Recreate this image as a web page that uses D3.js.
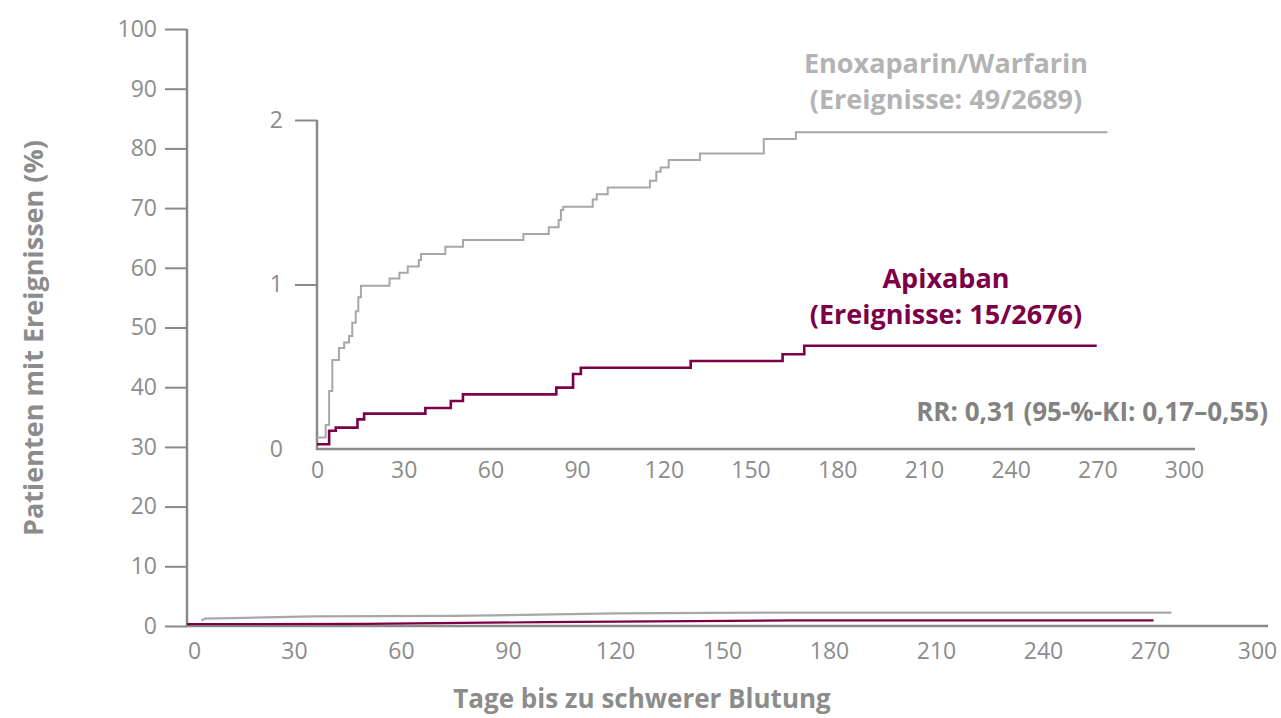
<!DOCTYPE html>
<html>
<head>
<meta charset="utf-8">
<script src="https://cdn.jsdelivr.net/npm/d3@7"></script>
<style>
  body { margin: 0; background: #fff; }
  svg text { font-family: "Open Sans", "Noto Sans", sans-serif; }
</style>
</head>
<body>
<div id="chart" style="width:1281px;height:718px"></div>
<script>
// inset: cumulative incidence (%) step curves, [day, percent]
const enoxInset = [
  [0, 0.07], [3.0, 0.146], [4.2, 0.353], [5.3, 0.541], [7.6, 0.614], [9.4, 0.648],
  [11.1, 0.687], [12.2, 0.768], [13.4, 0.837], [14.3, 0.922], [15.2, 0.993],
  [25.1, 1.037], [28.5, 1.072], [31.4, 1.11], [35.2, 1.149], [36.0, 1.185],
  [44.4, 1.23], [50.5, 1.27], [71.4, 1.307], [80.2, 1.348], [83.6, 1.392],
  [84.4, 1.453], [85.2, 1.473], [95.4, 1.516], [96.8, 1.548], [100.6, 1.589],
  [115.2, 1.63], [117.4, 1.686], [118.9, 1.712], [121.7, 1.757], [132.5, 1.797],
  [154.6, 1.884], [165.7, 1.925], [273.5, 1.925]
];
const apixInset = [
  [0, 0.029], [4.2, 0.111], [6.5, 0.13], [14.0, 0.18], [16.3, 0.215], [37.5, 0.249],
  [46.3, 0.292], [50.5, 0.332], [82.8, 0.373], [88.6, 0.456], [91.3, 0.494],
  [129.3, 0.535], [161.1, 0.576], [168.6, 0.628], [269.8, 0.628]
];
// main panel curves (0-100 % scale)
const enoxMain = [[4, 0.9], [5, 1.25], [35, 1.6], [75, 1.7], [120, 2.1], [165, 2.25], [276, 2.25]];
const apixMain = [[0, 0.3], [50, 0.35], [100, 0.65], [170, 0.95], [271, 0.95]];

const mainYTicks = [0, 10, 20, 30, 40, 50, 60, 70, 80, 90, 100];
const xTicks = [0, 30, 60, 90, 120, 150, 180, 210, 240, 270, 300];
const insetYTicks = [0, 1, 2];

const axisColor = '#8a8a8a';
const textColor = '#8c8c8c';
const enoxColor = '#a7a7a7';
const apixColor = '#7b0048';

const svg = d3.select('#chart').append('svg')
  .attr('width', 1281)
  .attr('height', 718);

// ---- main panel
const x = d3.scaleLinear().domain([0, 300]).range([187, 1257]);
const y = d3.scaleLinear().domain([0, 100]).range([626, 29]);

const yAxis = svg.append('g')
  .attr('transform', 'translate(187,0)')
  .call(d3.axisLeft(y).tickValues(mainYTicks).tickSize(22).tickSizeOuter(0).tickPadding(8));
yAxis.select('.domain').remove();
yAxis.selectAll('line').attr('stroke', axisColor).attr('stroke-width', 2);
yAxis.selectAll('text').attr('fill', textColor).style('font-size', '23px');

svg.append('line')
  .attr('x1', 187).attr('x2', 187)
  .attr('y1', y(100)).attr('y2', y(0) + 1)
  .attr('stroke', axisColor).attr('stroke-width', 2.5);

const xAxis = svg.append('g')
  .attr('transform', `translate(0,${y(0)})`)
  .call(d3.axisBottom(x).tickValues(xTicks).tickSize(0).tickPadding(17));
xAxis.select('.domain').remove();
xAxis.selectAll('text').attr('fill', textColor).style('font-size', '23px');
xAxis.selectAll('.tick').filter(d => d === 0).select('text').attr('dx', 7);

svg.append('line')
  .attr('x1', 186).attr('x2', 1268)
  .attr('y1', y(0)).attr('y2', y(0))
  .attr('stroke', axisColor).attr('stroke-width', 2.5);

const mainLine = d3.line()
  .x(d => x(d[0]))
  .y(d => y(d[1]));

svg.append('path')
  .datum(enoxMain)
  .attr('d', mainLine)
  .attr('fill', 'none')
  .attr('stroke', enoxColor)
  .attr('stroke-width', 2.2);

svg.append('path')
  .datum(apixMain)
  .attr('d', mainLine)
  .attr('fill', 'none')
  .attr('stroke', apixColor)
  .attr('stroke-width', 2.2);

// axis titles
svg.append('text')
  .attr('transform', 'translate(43,338) rotate(-90)')
  .attr('text-anchor', 'middle')
  .attr('fill', textColor)
  .style('font-size', '27px')
  .style('font-weight', 700)
  .text('Patienten mit Ereignissen (%)');

svg.append('text')
  .attr('x', 642).attr('y', 708)
  .attr('text-anchor', 'middle')
  .attr('fill', textColor)
  .style('font-size', '26px')
  .style('font-weight', 700)
  .text('Tage bis zu schwerer Blutung');

// ---- inset panel
const xi = d3.scaleLinear().domain([0, 300]).range([317, 1184]);
const yi = d3.scaleLinear().domain([0, 2]).range([449, 120]);

const yiAxis = svg.append('g')
  .attr('transform', 'translate(317,0)')
  .call(d3.axisLeft(yi).tickValues(insetYTicks).tickFormat(d3.format('d'))
    .tickSize(22).tickSizeOuter(0).tickPadding(12));
yiAxis.select('.domain').remove();
yiAxis.selectAll('.tick').filter(d => d === 0).select('line').remove();
yiAxis.selectAll('line').attr('stroke', axisColor).attr('stroke-width', 2);
yiAxis.selectAll('text').attr('fill', textColor).style('font-size', '23px');

svg.append('line')
  .attr('x1', 317).attr('x2', 317)
  .attr('y1', yi(2)).attr('y2', yi(0) + 1)
  .attr('stroke', axisColor).attr('stroke-width', 2.5);

const xiAxis = svg.append('g')
  .attr('transform', `translate(0,${yi(0)})`)
  .call(d3.axisBottom(xi).tickValues(xTicks).tickSize(0).tickPadding(13));
xiAxis.select('.domain').remove();
xiAxis.selectAll('text').attr('fill', textColor).style('font-size', '23px');

svg.append('line')
  .attr('x1', 316).attr('x2', 1195)
  .attr('y1', yi(0)).attr('y2', yi(0))
  .attr('stroke', axisColor).attr('stroke-width', 2.5);

const insetLine = d3.line()
  .curve(d3.curveStepAfter)
  .x(d => xi(d[0]))
  .y(d => yi(d[1]));

svg.append('path')
  .datum(enoxInset)
  .attr('d', insetLine)
  .attr('fill', 'none')
  .attr('stroke', enoxColor)
  .attr('stroke-width', 2);

svg.append('path')
  .datum(apixInset)
  .attr('d', insetLine)
  .attr('fill', 'none')
  .attr('stroke', apixColor)
  .attr('stroke-width', 2.6);

// ---- annotations
const enoxLabel = svg.append('text')
  .attr('text-anchor', 'middle')
  .attr('fill', '#b3b3b3')
  .style('font-size', '27px')
  .style('font-weight', 700);
enoxLabel.append('tspan').attr('x', 946).attr('y', 73).text('Enoxaparin/Warfarin');
enoxLabel.append('tspan').attr('x', 946).attr('y', 109).text('(Ereignisse: 49/2689)');

const apixLabel = svg.append('text')
  .attr('text-anchor', 'middle')
  .attr('fill', apixColor)
  .style('font-size', '27px')
  .style('font-weight', 700);
apixLabel.append('tspan').attr('x', 946).attr('y', 288).text('Apixaban');
apixLabel.append('tspan').attr('x', 946).attr('y', 324).text('(Ereignisse: 15/2676)');

svg.append('text')
  .attr('x', 1268).attr('y', 421)
  .attr('text-anchor', 'end')
  .attr('fill', '#828282')
  .style('font-size', '26px')
  .style('font-weight', 700)
  .text('RR: 0,31 (95-%-KI: 0,17–0,55)');
</script>
</body>
</html>
